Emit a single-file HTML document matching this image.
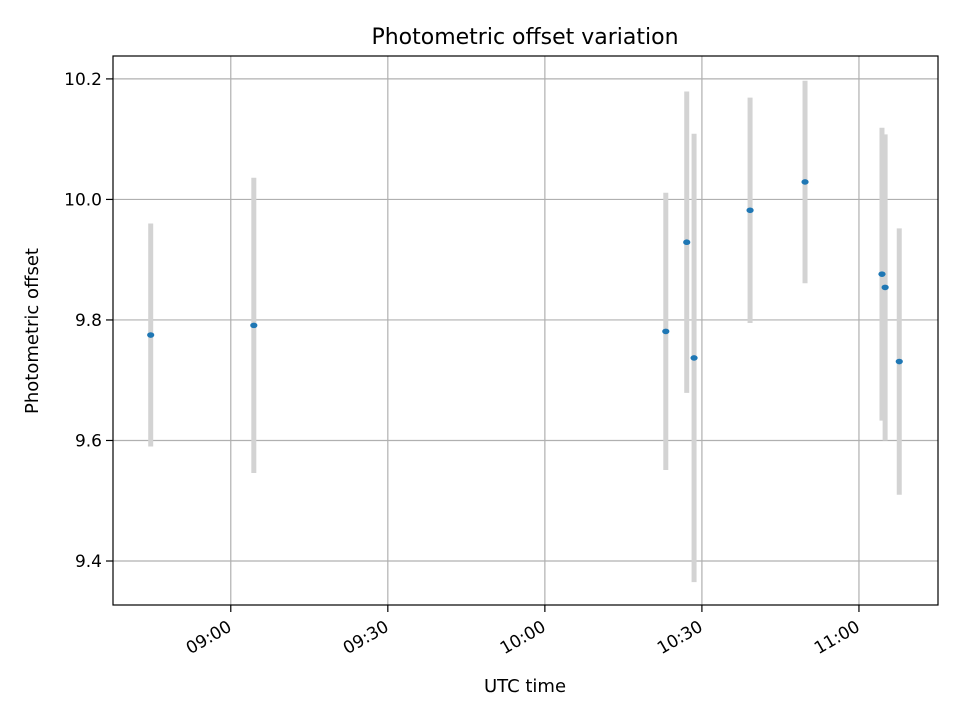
<!DOCTYPE html>
<html><head><meta charset="utf-8"><style>
body{margin:0;background:#fff;}
svg{font-family:"DejaVu Sans","Liberation Sans",sans-serif;}
</style></head><body>
<svg id="chart" width="960" height="720">
<rect width="960" height="720" fill="#fff"/>
<text x="525" y="44" font-size="22" text-anchor="middle">Photometric offset variation</text>
<g id="grid"></g>
<g id="bars"></g>
<g id="ticks"></g>
<rect x="113" y="56" width="825" height="549" fill="none" stroke="#000" stroke-width="1.2"/>
<text x="525" y="692" font-size="18" text-anchor="middle">UTC time</text>
<text transform="translate(38,331) rotate(-90)" font-size="18" text-anchor="middle">Photometric offset</text>
</svg>
<script>
const times = ["08:44.7","09:04.4","10:23.1","10:27.1","10:28.5","10:39.2","10:49.7","11:04.4","11:05.0","11:07.7"];
const offsets = [9.775,9.791,9.781,9.929,9.737,9.982,10.029,9.876,9.854,9.731];
const errors = [0.185,0.245,0.23,0.25,0.372,0.187,0.168,0.243,0.254,0.221];
const xTickLabels = ["09:00","09:30","10:00","10:30","11:00"];
const yTickLabels = ["9.4","9.6","9.8","10.0","10.2"];
const NS="http://www.w3.org/2000/svg";
function mins(t){const [h,r]=t.split(":");return +h*60+parseFloat(r);}
const X0=113,X1=938,Y0=605,Y1=56;
const xMin=mins("08:37.5"),xMax=mins("11:15.1");
const yMin=9.327,yMax=10.238;
function sx(t){return X0+(mins(t)-xMin)/(xMax-xMin)*(X1-X0);}
function sy(v){return Y0-(v-yMin)/(yMax-yMin)*(Y0-Y1);}
function mk(tag,attrs,parent){const e=document.createElementNS(NS,tag);for(const k in attrs)e.setAttribute(k,attrs[k]);parent.appendChild(e);return e;}
const grid=document.getElementById("grid"),ticks=document.getElementById("ticks"),bars=document.getElementById("bars");
xTickLabels.forEach(l=>{const x=sx(l);
 const gl=mk("line",{x1:x,x2:x,y1:Y1,y2:Y0,stroke:"#b0b0b0","stroke-width":1.2},grid);
 
 const tk=mk("line",{x1:x,x2:x,y1:Y0,y2:Y0+7,stroke:"#000","stroke-width":1.2},ticks);
 
 const t=mk("text",{transform:`translate(${x+2},${Y0+25}) rotate(-30)`,"font-size":17,"text-anchor":"end"},ticks);
 t.textContent=l;
 
});
yTickLabels.forEach(l=>{const y=sy(parseFloat(l));
 const gl=mk("line",{x1:X0,x2:X1,y1:y,y2:y,stroke:"#b0b0b0","stroke-width":1.2},grid);
 
 const tk=mk("line",{x1:X0-7,x2:X0,y1:y,y2:y,stroke:"#000","stroke-width":1.2},ticks);
 
 const t=mk("text",{x:X0-11,y:y+6,"font-size":17,"text-anchor":"end"},ticks);
 t.textContent=l;
 
});
times.forEach((tm,i)=>{const x=sx(tm);
 const b=mk("line",{x1:x,x2:x,y1:sy(offsets[i]+errors[i]),y2:sy(offsets[i]-errors[i]),stroke:"#d3d3d3","stroke-width":5},bars);
 
});
times.forEach((tm,i)=>{
 const p=mk("ellipse",{cx:sx(tm),cy:sy(offsets[i]),rx:3.6,ry:2.8,fill:"#1f77b4"},bars);
 
});
</script>
</body></html>
